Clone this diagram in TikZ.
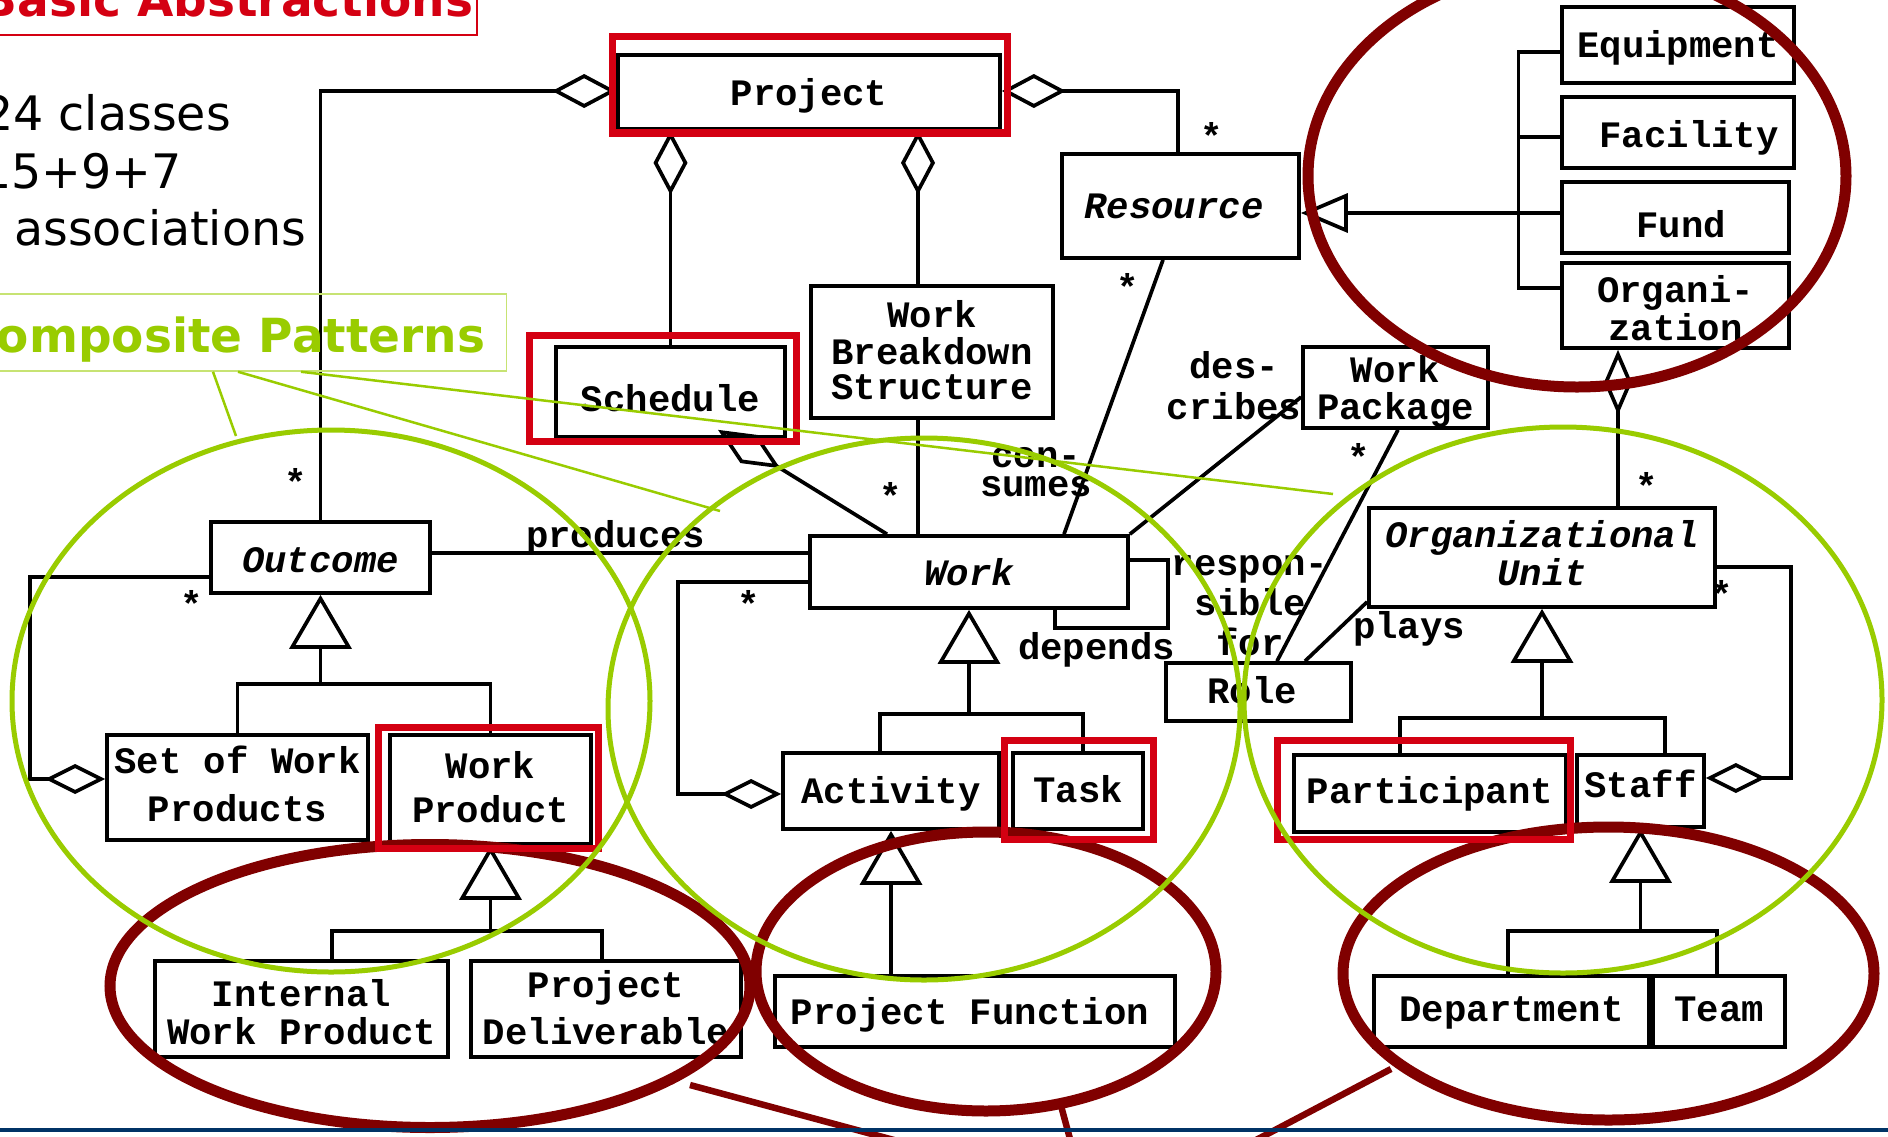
\documentclass[tikz,border=0pt]{standalone}
\usepackage{fontspec}
\usetikzlibrary{arrows.meta}
\newfontfamily\monofam{Liberation Mono}
\newfontfamily\sansfam{DejaVu Sans}
\newcommand\umlfont{\monofam\bfseries\fontsize{37.3pt}{38pt}\selectfont}
% stacked, centred lines; #1 = line spacing factor
\newcommand\stk[2]{{\renewcommand\arraystretch{#1}\begin{tabular}[t]{@{}c@{}}#2\end{tabular}}}
\definecolor{hlred}{HTML}{D40012}
\definecolor{hlgreen}{HTML}{99CC00}
\definecolor{hlbrown}{HTML}{800000}
\definecolor{barblue}{HTML}{003366}
\tikzset{
  clsbox/.style={draw, line width=3.7pt, inner sep=0pt, font=\umlfont, text depth=0pt},
  assoc/.style={line width=3.7pt},
  aggr/.style={assoc, {Diamond[open,length=64pt,width=34pt]}-},
  aggrh/.style={assoc, {Diamond[open,length=60pt,width=30pt]}-},
  aggrl/.style={assoc, {Diamond[open,length=73pt,width=33pt]}-},
  genl/.style={assoc, -{Triangle[open,length=54pt,width=62pt]}},
  gensm/.style={assoc, -{Triangle[open,length=47pt,width=39pt]}},
  lbl/.style={font=\umlfont, inner sep=0pt},
  mult/.style={lbl, anchor=base},
  hilite/.style={draw=hlred, line width=7.5pt},
  callout/.style={draw=hlgreen, line width=5pt},
  focus/.style={draw=hlbrown, line width=11pt},
  bodytext/.style={inner sep=0pt, font=\sansfam\fontsize{47.5pt}{50pt}\selectfont},
}
\begin{document}
\begin{tikzpicture}[x=1pt, y=-1pt, line join=miter]
\useasboundingbox (0,0) rectangle (1888,1136);
\fill[white] (0,0) rectangle (1888,1136);

% ---------- slide text ----------
\node[draw=hlred, line width=2pt, text=hlred, font=\sansfam\bfseries\fontsize{47pt}{50pt}\selectfont,
      inner xsep=4pt, inner ysep=0pt, text height=46pt, text depth=19pt, anchor=base east]
      (title) at (478,16) {Basic Abstractions};
\node[bodytext, anchor=base east] (nclasses) at (231,130) {24 classes};
\node[bodytext, anchor=base east] (nsum) at (182,188) {15+9+7};
\node[bodytext, anchor=base west] (nassoc) at (14,245) {associations};

% ---------- classes ----------
\node[clsbox, minimum width=382pt, minimum height=74pt, text height=26pt] (project) at (809,92) {Project};
\node[clsbox, minimum width=237pt, minimum height=104pt, text height=24pt] (resource) at (1180.5,206) {\itshape Resource\hspace*{13pt}};
\node[clsbox, minimum width=232pt, minimum height=76pt, text height=24pt] (equipment) at (1678,45) {Equipment};
\node[clsbox, minimum width=232pt, minimum height=71pt, text height=29pt] (facility) at (1678,132.5) {\hspace*{22pt}Facility};
\node[clsbox, minimum width=227pt, minimum height=71pt, text height=39pt] (fund) at (1675.5,217.5) {\hspace*{11pt}Fund};
\node[clsbox, minimum width=227pt, minimum height=85pt, text height=0pt, text depth=7pt] (organization) at (1675.5,305.5) {\stk{1}{Organi-\\zation}};
\node[clsbox, minimum width=229pt, minimum height=90pt, text height=38pt] (schedule) at (670.5,392) {Schedule};
\node[clsbox, minimum width=242pt, minimum height=132pt, text height=0pt, text depth=50pt] (wbs) at (932,352) {\stk{0.921}{Work\\Breakdown\\Structure}};
\node[clsbox, minimum width=219pt, minimum height=71pt, text height=29pt] (outcome) at (320.5,557.5) {\itshape Outcome};
\node[clsbox, minimum width=318pt, minimum height=72pt, text height=26pt] (work) at (969,572) {\itshape Work};
\node[clsbox, minimum width=185pt, minimum height=81pt, text height=0pt, text depth=11pt] (wpkg) at (1395.5,387.5) {\stk{0.947}{Work\\Package}};
\node[clsbox, minimum width=346pt, minimum height=99pt, text height=0pt, text depth=21pt] (ou) at (1542,557.5) {\itshape\stk{1}{Organizational\\Unit}};
\node[clsbox, minimum width=185pt, minimum height=58pt, text height=22pt] (role) at (1258.5,692) {Role\hspace*{13pt}};
\node[clsbox, minimum width=261pt, minimum height=105pt, text height=0pt, text depth=29pt] (setwp) at (237.5,787.5) {\stk{1.289}{Set of Work\\Products}};
\node[clsbox, minimum width=201pt, minimum height=109pt, text height=0pt, text depth=23pt] (wprod) at (490.5,789.5) {\stk{1.158}{Work\\Product}};
\node[clsbox, minimum width=216pt, minimum height=76pt, text height=24pt] (activity) at (891,791) {Activity};
\node[clsbox, minimum width=130pt, minimum height=76pt, text height=22pt] (task) at (1078,791) {Task};
\node[clsbox, minimum width=272pt, minimum height=77pt, text height=19pt] (participant) at (1430,793.5) {Participant};
\node[clsbox, minimum width=127pt, minimum height=72pt, text height=12pt] (staff) at (1640.5,791) {Staff};
\node[clsbox, minimum width=293pt, minimum height=96pt, text height=0pt, text depth=6pt] (iwp) at (301.5,1009) {\stk{1}{Internal\\Work Product}};
\node[clsbox, minimum width=270pt, minimum height=96pt, text height=0pt, text depth=24pt] (pd) at (606,1009) {\stk{1.237}{Project\\Deliverable}};
\node[clsbox, minimum width=400pt, minimum height=71pt, text height=25pt] (pf) at (975,1011.5) {Project Function\hspace*{10pt}};
\node[clsbox, minimum width=275pt, minimum height=71pt, text height=19pt] (dept) at (1511.5,1011.5) {Department};
\node[clsbox, minimum width=132pt, minimum height=71pt, text height=19pt] (team) at (1719,1011.5) {Team};

% ---------- aggregations from Project ----------
\draw[aggr] ([yshift=1pt]project.west) -| (outcome.north);
\draw[aggr] (project.south -| schedule.north) -- (schedule.north);
\coordinate (wbsx) at ([xshift=-14pt]wbs.north);
\draw[aggr] (project.south -| wbsx) -- (wbsx);
\draw[aggr] ([yshift=1pt]project.east) -| ([xshift=-2.5pt]resource.north);

% ---------- Resource specialisations ----------
\coordinate (rb1) at (1518.5,52);
\coordinate (rb2) at (1518.5,137);
\coordinate (rb3) at (1518.5,213);
\coordinate (rb4) at (1518.5,288);
\draw[assoc] (rb1 -| equipment.west) -- (rb1) -- (rb4) -- (rb4 -| organization.west);
\draw[assoc] (rb2) -- (rb2 -| facility.west);
\draw[gensm] (rb3 -| fund.west) -- (rb3 -| resource.east);

% ---------- Outcome specialisations ----------
\coordinate (oj) at (outcome.south |- 0,684);
\draw[genl] (oj) -- (outcome.south);
\draw[assoc] (setwp.north) |- (oj) -| (wprod.north);

% ---------- Work Product specialisations ----------
\coordinate (pj) at (wprod.south |- 0,931);
\draw[genl] (pj) -- (wprod.south);
\draw[assoc] ([xshift=30.5pt]iwp.north) |- (pj) -| ([xshift=-4pt]pd.north);

% ---------- Work specialisations ----------
\coordinate (wj) at (work.south |- 0,714);
\draw[genl] (wj) -- (work.south);
\draw[assoc] ([xshift=-11pt]activity.north) |- (wj) -| ([xshift=5pt]task.north);
\draw[genl] (activity.south |- pf.north) -- (activity.south);

% ---------- Organizational Unit specialisations ----------
\coordinate (uj) at (ou.south |- 0,718);
\draw[genl] (uj) -- (ou.south);
\draw[assoc] ([xshift=-30pt]participant.north) |- (uj) -| ([xshift=24.5pt]staff.north);
\coordinate (sj) at (staff.south |- 0,931);
\draw[genl] (sj) -- (staff.south);
\draw[assoc] ([xshift=-3.5pt]dept.north) |- (sj) -| ([xshift=-2pt]team.north);

% ---------- associations ----------
\draw[aggrh] ([yshift=8.5pt]setwp.west) -| (30,577) -- ([yshift=-19.5pt]outcome.west);
\coordinate (pr) at ([yshift=4.5pt]outcome.east);
\draw[assoc] (pr) -- (pr -| work.west);
\draw[aggrh] ([yshift=-3pt]activity.west) -| (678,582) -- ([yshift=-10pt]work.west);
\draw[assoc] ([yshift=12pt]work.east) -| (1168,628) -| ([xshift=86pt]work.south);
\draw[aggrl] ([xshift=47.5pt,yshift=9pt]schedule.south) -- ([xshift=-82pt]work.north);
\draw[assoc] (wbsx |- wbs.south) -- (wbsx |- work.north);
\draw[assoc] ([xshift=-17.5pt]resource.south) -- ([xshift=95pt]work.north);
\draw[assoc] (work.north east) -- ([yshift=-9.5pt]wpkg.west);
\draw[assoc] ([xshift=2.5pt]wpkg.south) -- ([xshift=18.5pt]role.north);
\draw[assoc] ([yshift=7pt]ou.south west) -- ([xshift=46.5pt]role.north);
\draw[assoc, {Diamond[open,length=65pt,width=28pt]}-] ([xshift=-57.5pt]organization.south) -- ([xshift=76pt]ou.north);
\draw[aggrh] ([yshift=13pt]staff.east) -| (1791,567) -- ([yshift=-9.5pt]ou.east);

% ---------- association names and multiplicities ----------
\node[lbl, anchor=base west] (lproduces) at (526,547) {produces};
\node[lbl, anchor=base] (ldescribes) at (1234,378) {\stk{1.105}{des-\\cribes}};
\node[lbl, anchor=base] (lconsumes) at (1036,467) {\stk{0.763}{con-\\sumes}};
\node[lbl, anchor=base west] (ldepends) at (1018,659) {depends};
\node[lbl, anchor=base] (lresp) at (1250,575) {\stk{1.053}{respon-\\sible\\for}};
\node[lbl, anchor=base west] (lplays) at (1353,638) {plays};
\node[mult] (m1) at (1212,149) {*};
\node[mult] (m2) at (1128,300) {*};
\node[mult] (m3) at (296,495) {*};
\node[mult] (m4) at (192,617) {*};
\node[mult] (m5) at (891,509) {*};
\node[mult] (m6) at (749,617) {*};
\node[mult] (m7) at (1359,470) {*};
\node[mult] (m8) at (1647,499) {*};
\node[mult] (m9) at (1722,607) {*};

% ---------- dark red focus ellipses ----------
\draw[focus] (1577,176) ellipse [x radius=269pt, y radius=211pt];
\draw[focus] (430,986) ellipse [x radius=320pt, y radius=141.5pt];
\draw[focus] (986,971.5) ellipse [x radius=230pt, y radius=139.5pt];
\draw[focus] (1608.5,973.5) ellipse [x radius=265.5pt, y radius=146.5pt];
\draw[hlbrown, line width=6.5pt] (690,1085) -- (931,1150);
\draw[hlbrown, line width=6.5pt] (1060,1102) -- (1073,1150);
\draw[hlbrown, line width=6.5pt] (1391,1069) -- (1237,1150);

% ---------- red highlight frames ----------
\draw[hilite] (612.5,36.5) rectangle (1007.5,133);
\draw[hilite] (529.5,335.5) rectangle (796.5,441.5);
\draw[hilite] (378.5,727.5) rectangle (598.5,848.5);
\draw[hilite] (1004.5,740.5) rectangle (1153.5,839.5);
\draw[hilite] (1277.5,740.5) rectangle (1570.5,839.5);

% ---------- green composite pattern callouts ----------
\draw[callout] (331,701) ellipse [x radius=319pt, y radius=271pt];
\draw[callout] (924,709) ellipse [x radius=316pt, y radius=271pt];
\draw[callout] (1563,700) ellipse [x radius=319pt, y radius=273pt];
\node[draw=hlgreen!55, line width=1.5pt, text=hlgreen, font=\sansfam\bfseries\fontsize{47pt}{50pt}\selectfont,
      inner xsep=21pt, inner ysep=0pt, minimum height=77pt, text height=39pt, text depth=0pt, anchor=east]
      (cp) at (507,332.5) {Composite Patterns};
\draw[hlgreen, line width=2.5pt] ([xshift=-294pt]cp.south east) -- (236,436);
\draw[hlgreen, line width=2.5pt] ([xshift=-269pt]cp.south east) -- (720,511);
\draw[hlgreen, line width=2.5pt] ([xshift=-206pt]cp.south east) -- (1333,494);

% ---------- bottom rule ----------
\draw[barblue, line width=3.5pt] (0,1130) -- (1888,1130);
\end{tikzpicture}
\end{document}
